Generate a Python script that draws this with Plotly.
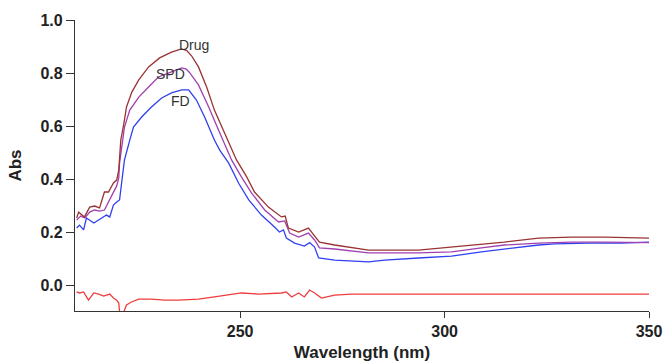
import plotly.graph_objects as go

# ---- data ----
drug_wl = [210.0, 210.5, 211.9, 213.2, 214.4, 215.6, 216.8, 217.8, 219.0, 219.8, 220.3, 220.5, 220.8,
           221.5, 222.2, 223.5, 225.2, 227.6, 230.3, 233.2, 235.7, 237.0, 238.1, 239.8, 241.8, 243.7,
           246.2, 247.9, 249.1, 251.6, 253.5, 256.9, 260.1, 261.0, 261.8, 264.3, 266.7, 268.0, 269.4,
           273.1, 281.4, 293.6, 301.7, 309.0, 314.6, 323.0, 331.0, 339.1, 350.0]
drug_abs = [0.253, 0.275, 0.257, 0.294, 0.298, 0.291, 0.351, 0.351, 0.385, 0.396, 0.434, 0.472, 0.547,
            0.604, 0.672, 0.728, 0.774, 0.823, 0.857, 0.879, 0.891, 0.884, 0.865, 0.823, 0.747, 0.660,
            0.574, 0.509, 0.472, 0.408, 0.351, 0.294, 0.257, 0.260, 0.215, 0.200, 0.215, 0.189, 0.162,
            0.151, 0.132, 0.132, 0.143, 0.155, 0.162, 0.177, 0.181, 0.181, 0.177]

spd_wl = [210.0, 211.0, 212.0, 213.2, 214.4, 215.6, 216.8, 218.1, 219.0, 219.8, 220.3, 220.5, 221.0,
          221.7, 223.0, 225.2, 227.6, 230.0, 233.2, 235.7, 236.8, 237.6, 239.8, 242.3, 244.7, 247.9,
          250.3, 252.8, 256.0, 259.4, 260.9, 262.1, 264.3, 266.7, 268.2, 269.4, 273.1, 281.4, 293.6,
          301.7, 309.0, 314.6, 323.0, 331.0, 339.1, 350.0]
spd_abs = [0.245, 0.260, 0.253, 0.275, 0.283, 0.279, 0.283, 0.321, 0.347, 0.374, 0.404, 0.460, 0.517,
           0.596, 0.660, 0.709, 0.747, 0.785, 0.804, 0.819, 0.815, 0.802, 0.755, 0.672, 0.585, 0.472,
           0.408, 0.347, 0.283, 0.238, 0.242, 0.196, 0.181, 0.196, 0.170, 0.140, 0.136, 0.121, 0.121,
           0.125, 0.140, 0.151, 0.158, 0.162, 0.162, 0.160]

fd_wl = [210.0, 210.7, 211.7, 212.4, 214.2, 216.1, 217.3, 218.1, 219.0, 219.8, 220.5, 221.0, 221.7,
         223.0, 223.9, 225.9, 228.3, 230.8, 233.2, 235.7, 237.4, 239.3, 241.3, 243.7, 245.0, 247.2,
         249.6, 252.1, 255.2, 258.4, 259.6, 260.6, 261.3, 263.3, 265.7, 267.0, 268.2, 269.2, 273.1,
         281.4, 285.3, 293.6, 301.7, 309.0, 314.6, 323.0, 326.9, 335.2, 343.3, 350.0]
fd_abs = [0.215, 0.226, 0.208, 0.253, 0.234, 0.253, 0.264, 0.257, 0.302, 0.313, 0.321, 0.385, 0.472,
          0.547, 0.596, 0.634, 0.672, 0.706, 0.725, 0.736, 0.736, 0.698, 0.634, 0.547, 0.509, 0.460,
          0.385, 0.321, 0.264, 0.219, 0.200, 0.208, 0.177, 0.158, 0.147, 0.160, 0.143, 0.102, 0.094,
          0.087, 0.094, 0.102, 0.109, 0.125, 0.136, 0.151, 0.155, 0.158, 0.158, 0.162]

base_wl = [210.0, 210.7, 211.7, 212.9, 214.2, 215.4, 216.6, 218.1, 219.0, 219.8, 220.3, 220.6, 221.2,
           222.2, 223.4, 225.2, 228.3, 231.5, 234.9, 239.8, 243.7, 247.2, 250.3, 254.5, 260.1, 261.3,
           262.6, 264.3, 265.7, 267.0, 268.2, 269.9, 273.1, 277.2, 289.5, 303.4, 330.3, 350.0]
base_abs = [-0.026, -0.030, -0.026, -0.057, -0.030, -0.034, -0.042, -0.034, -0.049, -0.057, -0.068,
            -0.115, -0.115, -0.075, -0.064, -0.053, -0.053, -0.057, -0.057, -0.053, -0.045, -0.038,
            -0.030, -0.034, -0.030, -0.026, -0.045, -0.030, -0.045, -0.019, -0.030, -0.049, -0.038,
            -0.034, -0.034, -0.034, -0.034, -0.034]

labels = ["Drug", "SPD", "FD"]
label_wl = [238.6, 233.0, 235.4]
label_abs = [0.906, 0.796, 0.694]

x_ticks = [250, 300, 350]
y_ticks = [0.0, 0.2, 0.4, 0.6, 0.8, 1.0]

# ---- figure ----
fig = go.Figure()
fig.add_trace(go.Scatter(x=base_wl, y=base_abs, mode="lines", name="Baseline",
                         line=dict(color="#F03C3C", width=1.3)))
fig.add_trace(go.Scatter(x=fd_wl, y=fd_abs, mode="lines", name="FD",
                         line=dict(color="#3040F0", width=1.3)))
fig.add_trace(go.Scatter(x=spd_wl, y=spd_abs, mode="lines", name="SPD",
                         line=dict(color="#A040B0", width=1.3)))
fig.add_trace(go.Scatter(x=drug_wl, y=drug_abs, mode="lines", name="Drug",
                         line=dict(color="#993333", width=1.3)))

for t, xw, ya in zip(labels, label_wl, label_abs):
    fig.add_annotation(x=xw, y=ya, text=t, showarrow=False, xref="x", yref="y",
                       font=dict(family="Arial, Liberation Sans", size=14, color="#333333"))

axis_font = dict(family="Arial, Liberation Sans", size=16, color="#222222")
fig.update_layout(
    width=663, height=362,
    margin=dict(l=75, r=14, t=20, b=51),
    plot_bgcolor="white", paper_bgcolor="white",
    showlegend=False,
    font=axis_font,
    xaxis=dict(range=[209.6, 350], tickvals=x_ticks, ticktext=[f"<b>{v}</b>" for v in x_ticks],
               showline=True, linecolor="#333333", linewidth=1.3, ticks="outside", ticklen=6,
               tickcolor="#333333", tickwidth=1.3, showgrid=False, zeroline=False, automargin=False,
               title=dict(text="<b>Wavelength (nm)</b>", font=dict(size=17), standoff=6)),
    yaxis=dict(range=[-0.098, 1.0], tickvals=y_ticks, ticktext=[f"<b>{v:.1f}</b>" for v in y_ticks],
               showline=True, linecolor="#333333", linewidth=1.3, ticks="outside", ticklen=8,
               tickcolor="#333333", tickwidth=1.3, showgrid=False, zeroline=False, automargin=False,
               title=dict(text="<b>Abs</b>", font=dict(size=17), standoff=14)),
)

fig.write_html("out.html", config={"displayModeBar": False},
               post_script="document.body.style.margin='0';document.body.style.overflow='hidden';")
